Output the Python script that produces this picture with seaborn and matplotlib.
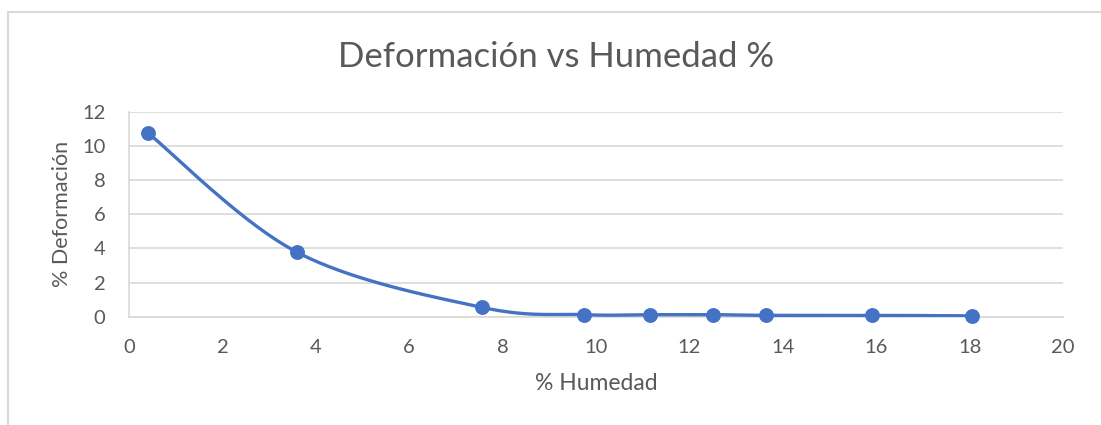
import numpy as np
import pandas as pd
import matplotlib
matplotlib.use("Agg")
import matplotlib.pyplot as plt
from matplotlib.lines import Line2D
import seaborn as sns

humedad = [0.4, 3.6, 7.55, 9.75, 11.15, 12.5, 13.65, 15.9, 18.05]
deformacion = [10.77, 3.77, 0.55, 0.12, 0.12, 0.12, 0.08, 0.08, 0.05]
x_ticks = [0, 2, 4, 6, 8, 10, 12, 14, 16, 18, 20]
y_ticks = [0, 2, 4, 6, 8, 10, 12]
title = "Deformación vs Humedad %"
x_label = "% Humedad"
y_label = "% Deformación"

BLUE = "#4472C4"
TEXT = "#595959"
GRID = "#D9D9D9"

sns.set_theme(style="white")
plt.rcParams['font.family'] = ['Lato', 'DejaVu Sans']


def smooth_curve(xs, ys, n=40):
    # Excel-like smoothed line (cubic Bezier, Catmull-Rom control points)
    pts = np.column_stack([xs, ys]).astype(float)
    out = []
    m = len(pts)
    for i in range(m - 1):
        p0 = pts[i - 1] if i > 0 else pts[i]
        p1 = pts[i]
        p2 = pts[i + 1]
        p3 = pts[i + 2] if i + 2 < m else pts[i + 1]
        c1 = p1 + (p2 - p0) / 6.0
        c2 = p2 - (p3 - p1) / 6.0
        t = np.linspace(0, 1, n)[:, None]
        seg = ((1 - t) ** 3) * p1 + 3 * ((1 - t) ** 2) * t * c1 + 3 * (1 - t) * t ** 2 * c2 + t ** 3 * p2
        out.append(seg if i == 0 else seg[1:])
    return np.vstack(out)


curve = smooth_curve(humedad, deformacion)
df_curve = pd.DataFrame({"x": curve[:, 0], "y": curve[:, 1], "i": np.arange(len(curve))})
df_pts = pd.DataFrame({"x": humedad, "y": deformacion})

fig = plt.figure(figsize=(11.01, 4.25), dpi=100)
ax = fig.add_axes([129 / 1101, 1 - 316.7 / 425, (1063 - 129) / 1101, (316.7 - 111.7) / 425])

sns.lineplot(data=df_curve, x="x", y="y", sort=False, estimator=None, ax=ax,
             color=BLUE, linewidth=2.4, zorder=3)
sns.scatterplot(data=df_pts, x="x", y="y", ax=ax, color=BLUE, s=115,
                edgecolor=BLUE, linewidth=0, zorder=4, clip_on=False)

ax.set_xlim(0, 20)
ax.set_ylim(0, 12)
ax.set_xticks(x_ticks)
ax.set_yticks(y_ticks)
ax.set_xticklabels([str(v) for v in x_ticks])
ax.set_yticklabels([str(v) for v in y_ticks])
ax.tick_params(axis="both", length=0, labelsize=14.5, colors=TEXT)
ax.tick_params(axis="x", pad=16)
ax.tick_params(axis="y", pad=17)
ax.yaxis.grid(True, color=GRID, linewidth=1.2)
ax.xaxis.grid(False)
for s in ["top", "right"]:
    ax.spines[s].set_visible(False)
ax.spines["left"].set_color(GRID)
ax.spines["bottom"].set_color(GRID)
ax.spines["left"].set_linewidth(1.2)
ax.spines["bottom"].set_linewidth(1.2)
ax.set_xlabel(x_label, fontsize=16.5, color=TEXT, labelpad=12)
ax.set_ylabel(y_label, fontsize=15.5, color=TEXT, labelpad=7)

fig.text(556 / 1101, 1 - 57 / 425, title, fontsize=25, color=TEXT, ha="center", va="center")

# chart border (partly visible)
fig.add_artist(Line2D([8 / 1101, 8 / 1101], [0, 1 - 12 / 425], color="#D9D9D9", linewidth=1.5,
                      transform=fig.transFigure))
fig.add_artist(Line2D([8 / 1101, 1], [1 - 12 / 425, 1 - 12 / 425], color="#D9D9D9", linewidth=1.5,
                      transform=fig.transFigure))

fig.savefig("out.png", dpi=100, facecolor="white")
